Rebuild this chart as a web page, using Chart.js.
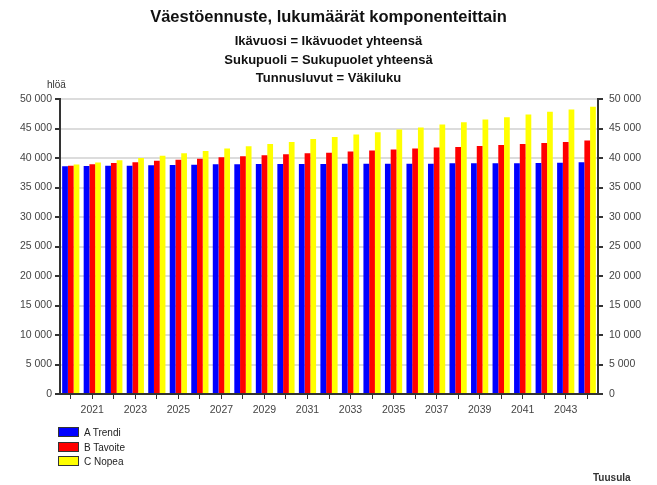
<!DOCTYPE html>
<html>
<head>
<meta charset="utf-8">
<script src="https://cdn.jsdelivr.net/npm/chart.js@4"></script>
<style>
  body { margin: 0; background: #fff; font-family: "Liberation Sans", Arial, sans-serif; }
  #wrap { position: relative; width: 657px; height: 485px; }
  canvas { position: absolute; left: 0; top: 0; }
  .t { position: absolute; left: 0; width: 657px; text-align: center; font-weight: bold; color: #111; white-space: nowrap; }
  .legend-item { position: absolute; left: 58px; font-size: 10px; color: #222; line-height: 11px; }
  .legend-box { display: inline-block; width: 19px; height: 8px; border: 1px solid #333; vertical-align: -1px; margin-right: 5px; }
</style>
</head>
<body>
<div id="wrap">
  <canvas id="chart" width="657" height="485"></canvas>
  <div class="t" style="top:7px;font-size:16.5px;">Väestöennuste, lukumäärät komponenteittain</div>
  <div class="t" style="top:33px;font-size:13px;">Ikävuosi = Ikävuodet yhteensä</div>
  <div class="t" style="top:52px;font-size:13px;">Sukupuoli = Sukupuolet yhteensä</div>
  <div class="t" style="top:70px;font-size:13px;">Tunnusluvut = Väkiluku</div>
  <div style="position:absolute;left:47px;top:79px;font-size:10px;color:#333;">hlöä</div>
  <div id="legend"></div>
  <div style="position:absolute;left:593px;top:472px;font-size:10px;font-weight:bold;color:#333;">Tuusula</div>
</div>
<script>
// === DATA ===
var years = ['2020', '2021', '2022', '2023', '2024', '2025', '2026', '2027', '2028', '2029',
             '2030', '2031', '2032', '2033', '2034', '2035', '2036', '2037', '2038', '2039',
             '2040', '2041', '2042', '2043', '2044'];
var seriesNames = ['A Trendi', 'B Tavoite', 'C Nopea'];
var trendi = [38590, 38640, 38700, 38700, 38760, 38810, 38870, 38930, 38930, 38990,
              38990, 39000, 39000, 39010, 39020, 39040, 39040, 39040, 39100, 39100,
              39110, 39120, 39150, 39200, 39270];
var tavoite = [38700, 38930, 39150, 39270, 39550, 39720, 39890, 40120, 40290, 40460,
               40630, 40800, 40910, 41090, 41260, 41430, 41600, 41770, 41880, 42040,
               42210, 42380, 42550, 42720, 42950];
var nopea = [38880, 39220, 39600, 40000, 40400, 40800, 41200, 41600, 41990, 42380,
             42720, 43230, 43570, 43970, 44370, 44830, 45170, 45680, 46070, 46530,
             46920, 47370, 47830, 48220, 48670];
var yTicks = [0, 5000, 10000, 15000, 20000, 25000, 30000, 35000, 40000, 45000, 50000];

var colors = ['#0000ff', '#ff0000', '#ffff00'];
var FONT = '"Liberation Sans", Arial, sans-serif';

function fmt(v) { return String(v).replace(/\B(?=(\d{3})+(?!\d))/g, ' '); }

// legend (HTML)
document.getElementById('legend').innerHTML = seriesNames.map(function(n, i) {
  return '<div class="legend-item" style="top:' + (427 + i * 14.5) + 'px"><span class="legend-box" style="background:' +
    colors[i] + '"></span>' + n + '</div>';
}).join('');

function yScale(pos, showGrid) {
  return {
    type: 'linear', position: pos, min: 0, max: 50000,
    afterBuildTicks: function(s) { s.ticks = yTicks.map(function(v) { return { value: v }; }); },
    afterFit: function(s) { s.width = pos === 'left' ? 60 : 59; },
    border: { display: true, color: '#333', width: 2 },
    grid: { display: true, drawOnChartArea: showGrid, color: '#dcdcdc', lineWidth: 2, tickColor: '#333', tickLength: 5 },
    ticks: { font: { family: FONT, size: 10.5 }, color: '#444', padding: pos === 'left' ? 3 : 6,
             callback: function(v) { return fmt(v); } }
  };
}

var ds = [trendi, tavoite, nopea].map(function(d, i) {
  return {
    label: seriesNames[i], data: d, backgroundColor: colors[i], borderWidth: 0,
    categoryPercentage: 0.8, barPercentage: 1.0, yAxisID: 'y'
  };
});

new Chart(document.getElementById('chart').getContext('2d'), {
  type: 'bar',
  data: { labels: years, datasets: ds },
  options: {
    responsive: false, animation: false,
    layout: { padding: { top: 99, bottom: 66, left: 0, right: 0 } },
    plugins: { legend: { display: false }, tooltip: { enabled: false } },
    scales: {
      x: {
        afterFit: function(s) { s.height = 25; },
        border: { display: true, color: '#333', width: 2 },
        grid: { display: true, drawOnChartArea: false, tickColor: '#333', tickLength: 5, offset: false },
        ticks: {
          autoSkip: false, maxRotation: 0, font: { family: FONT, size: 10.5 }, color: '#444', padding: 5,
          callback: function(v, i) { return i % 2 === 1 ? years[i] : ''; }
        }
      },
      y: yScale('left', true),
      y2: yScale('right', false)
    }
  }
});
</script>
</body>
</html>
